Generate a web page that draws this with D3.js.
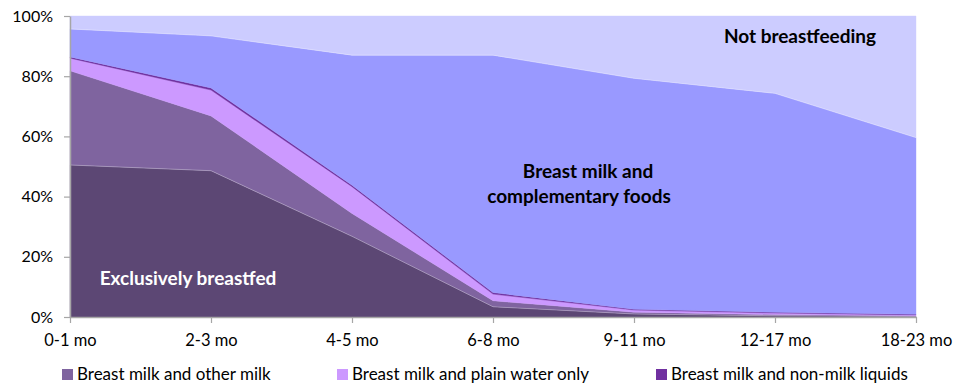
<!DOCTYPE html>
<html>
<head>
<meta charset="utf-8">
<script src="https://cdn.jsdelivr.net/npm/d3@7/dist/d3.min.js"></script>
<style>
html,body{margin:0;padding:0;background:#fff;}
svg{display:block;}
text{font-family:Lato,"Open Sans",sans-serif;}
</style>
</head>
<body>
<svg id="chart" width="961" height="385"></svg>
<script>
const categories = ["0-1 mo","2-3 mo","4-5 mo","6-8 mo","9-11 mo","12-17 mo","18-23 mo"];
const exclusive     = [50.5, 48.6, 26.8, 3.4, 1.0, 0.4, 0.2];
const otherMilk     = [31.3, 18.2, 7.6, 2.0, 0.6, 0.4, 0.2];
const plainWater    = [4.2, 8.6, 8.9, 2.2, 0.7, 0.5, 0.3];
const nonMilk       = [0.4, 0.7, 0.5, 0.5, 0.3, 0.3, 0.2];
const complementary = [9.3, 17.3, 43.2, 78.9, 76.7, 72.7, 58.7];
const notBF         = [4.3, 6.6, 13.0, 13.0, 20.7, 25.7, 40.4];
const yTicks = [0, 20, 40, 60, 80, 100];

const seriesKeys = ["exclusive","otherMilk","plainWater","nonMilk","complementary","notBF"];
const seriesData = {exclusive, otherMilk, plainWater, nonMilk, complementary, notBF};
const colors = {
  exclusive:"#5C4774",
  otherMilk:"#7F649F",
  plainWater:"#CC99FF",
  nonMilk:"#7030A0",
  complementary:"#9999FF",
  notBF:"#CCCCFF"
};
const legendItems = [
  {key:"otherMilk", label:"Breast milk and other milk"},
  {key:"plainWater", label:"Breast milk and plain water only"},
  {key:"nonMilk", label:"Breast milk and non-milk liquids"}
];

const table = categories.map((c,i)=>{
  const row = {cat:c};
  seriesKeys.forEach(k=>row[k]=seriesData[k][i]);
  return row;
});

const svg = d3.select("#chart");
const mLeft = 70, mRight = 916, mTop = 16, mBottom = 317;

const x = d3.scalePoint().domain(categories).range([mLeft, mRight]);
const y = d3.scaleLinear().domain([0,100]).range([mBottom, mTop]);

const stack = d3.stack().keys(seriesKeys).order(d3.stackOrderNone).offset(d3.stackOffsetNone);
const stacked = stack(table);

const area = d3.area()
  .x(d=>x(d.data.cat))
  .y0(d=>y(d[0]))
  .y1(d=>y(d[1]));

svg.append("g").selectAll("path")
  .data(stacked)
  .join("path")
  .attr("d", area)
  .attr("fill", d=>colors[d.key])
  .attr("stroke", d=>colors[d.key])
  .attr("stroke-width", 0.4);

// thin light boundary lines between some layers
const line = d3.line().x(d=>x(d.data.cat)).y(d=>y(d[1]));
["exclusive","complementary"].forEach(k=>{
  const s = stacked.find(s=>s.key===k);
  svg.append("path").attr("d", line(s)).attr("fill","none")
    .attr("stroke","#ffffff").attr("stroke-opacity",0.35).attr("stroke-width",0.8);
});

// axes
const xAxis = svg.append("g").attr("transform",`translate(0,${mBottom})`)
  .call(d3.axisBottom(x).tickSize(6).tickSizeOuter(0).tickPadding(11));
xAxis.select(".domain").attr("stroke","#a6a6a6").attr("stroke-width",1.5);
xAxis.selectAll(".tick line").attr("stroke","#a6a6a6").attr("stroke-width",1.2);
xAxis.selectAll("text").attr("font-size",16.5).attr("fill","#000")
  .attr("font-family","Lato,'Open Sans',sans-serif");

const yAxis = svg.append("g").attr("transform",`translate(${mLeft},0)`)
  .call(d3.axisLeft(y).tickValues(yTicks).tickFormat(d=>d+"%").tickSize(6).tickSizeOuter(0).tickPadding(11));
yAxis.select(".domain").attr("stroke","#a6a6a6").attr("stroke-width",1.5);
yAxis.selectAll(".tick line").attr("stroke","#a6a6a6").attr("stroke-width",1.2);
yAxis.selectAll("text").attr("font-size",16).attr("fill","#000")
  .attr("font-family","Lato,'Open Sans',sans-serif");

// annotations
const ann = svg.append("g").attr("font-weight","bold").attr("font-size",19).attr("text-anchor","middle");
ann.append("text").attr("x",188).attr("y",285).attr("fill","#fff").text("Exclusively breastfed");
ann.append("text").attr("x",588).attr("y",178).attr("fill","#000").text("Breast milk and");
ann.append("text").attr("x",579).attr("y",203).attr("fill","#000").text("complementary foods");
ann.append("text").attr("x",800).attr("y",43).attr("fill","#000").text("Not breastfeeding");

// legend
const legendX = [62, 337, 656];
const lg = svg.append("g");
legendItems.forEach((it,i)=>{
  const g = lg.append("g").attr("transform",`translate(${legendX[i]},369)`);
  g.append("rect").attr("x",0).attr("y",0).attr("width",11).attr("height",11).attr("fill",colors[it.key]);
  g.append("text").attr("x",15).attr("y",11).attr("font-size",17).attr("fill","#000").text(it.label);
});
</script>
</body>
</html>
